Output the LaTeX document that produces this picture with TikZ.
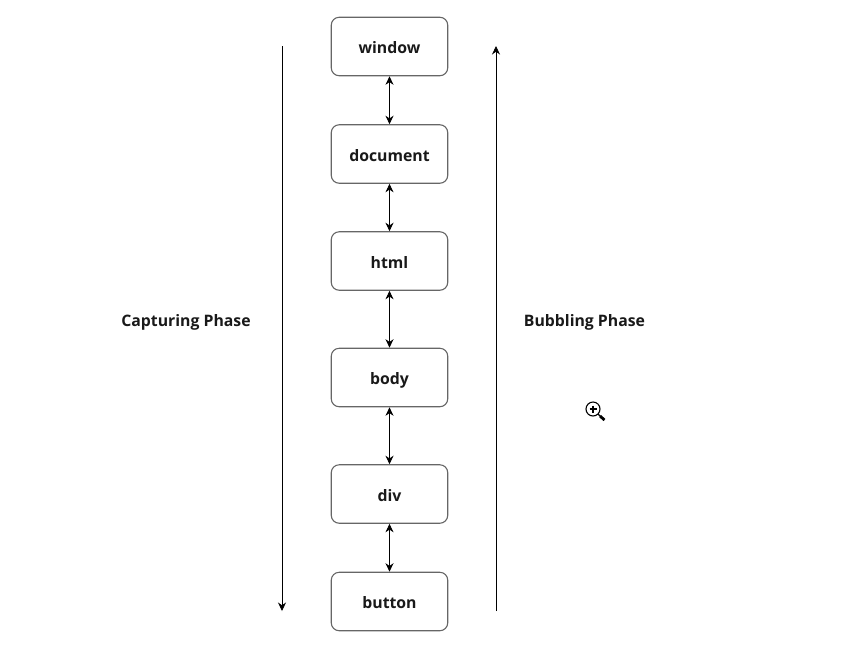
\documentclass[tikz,border=0pt]{standalone}
\usepackage{fontspec}
\setmainfont{Open Sans}
\usetikzlibrary{arrows.meta}
\newcommand{\lowered}[1]{\raisebox{-6pt}[0pt][0pt]{#1}}
\newcommand{\lowerbox}[1]{\raisebox{-7.2pt}[0pt][0pt]{#1}}
\tikzset{
  boxnode/.style={draw=black!60,line width=1.1pt,rounded corners=8pt,minimum width=116.5pt,minimum height=58.5pt,inner sep=0pt,font=\fontsize{15.8}{18}\selectfont\bfseries,text=black!90},
  lab/.style={inner sep=0pt,font=\fontsize{15.8}{18}\selectfont\bfseries,text=black!90},
  tip/.style={-{Stealth[length=8.5pt,width=8pt]}},
  dbl/.style={{Stealth[length=8.5pt,width=8pt]}-{Stealth[length=8.5pt,width=8pt]},line width=0.8pt},
  phase/.style={tip,line width=0.8pt}
}
\begin{document}
\begin{tikzpicture}[x=1pt,y=-1pt]
\useasboundingbox (0,0) rectangle (851,649);
\node[boxnode] (window) at (389.5,46.5) {\lowerbox{window}};
\node[boxnode] (document) at (389.5,154) {\lowerbox{document}};
\node[boxnode] (html) at (389.5,261) {\lowerbox{html}};
\node[boxnode] (body) at (389.5,377.5) {\lowerbox{body}};
\node[boxnode] (div) at (389.5,494) {\lowerbox{div}};
\node[boxnode] (button) at (389.5,601.5) {\lowerbox{button}};
\draw[dbl] (window) -- (document);
\draw[dbl] (document) -- (html);
\draw[dbl] (html) -- (body);
\draw[dbl] (body) -- (div);
\draw[dbl] (div) -- (button);
\coordinate (capTop) at (282,46);
\coordinate (capBot) at (282,611);
\coordinate (bubBot) at (496,611);
\coordinate (bubTop) at (496,46);
\draw[phase] (capTop) -- (capBot);
\draw[phase] (bubBot) -- (bubTop);
\node[lab] (capture) at (186,320.5) {\lowered{Capturing Phase}};
\node[lab] (bubble) at (584.5,320.5) {\lowered{Bubbling Phase}};
% magnifier cursor
\draw[black,line width=1.1pt] (593,409) circle (7pt);
\draw[black,line width=2.8pt] (589.5,409) -- (596.5,409) (593,405.5) -- (593,412.5);
\draw[black,line width=1.1pt] (598,414) -- (600,416);
\draw[black,line width=2.8pt] (600,416) -- (604.5,420);
\end{tikzpicture}
\end{document}
